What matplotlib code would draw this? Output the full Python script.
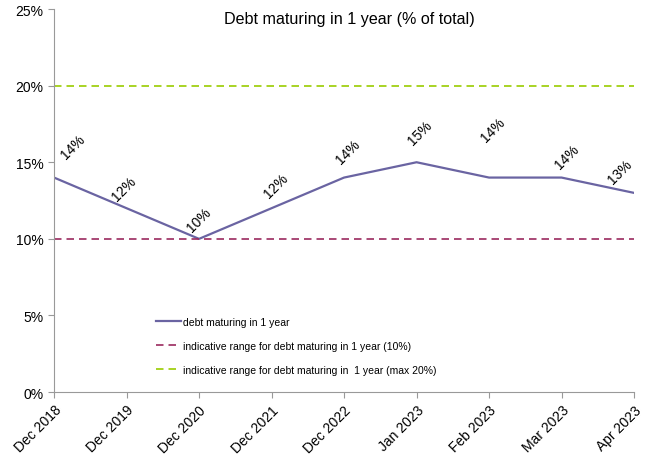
import matplotlib.pyplot as plt
import numpy as np

plt.rcParams['font.family'] = ['Liberation Sans', 'DejaVu Sans']

# data
periods = ['Dec 2018', 'Dec 2019', 'Dec 2020', 'Dec 2021', 'Dec 2022',
           'Jan 2023', 'Feb 2023', 'Mar 2023', 'Apr 2023']
debt_1y = [14, 12, 10, 12, 14, 15, 14, 14, 13]
range_min = 10
range_max = 20
# label offsets (pixels) so the rotated labels sit like the original
label_dx = [19, -3, 0, 4, 4, 3, 4, 5, -14]
label_dy = [31, 20, 19, 23, 26, 30, 48, 21, 22]

fig = plt.figure(figsize=(6.51, 4.56), dpi=100)
ax = fig.add_axes([0.083, 0.138, 0.891, 0.84])

x = np.arange(len(periods))
ax.plot(x, debt_1y, color='#6a64a2', lw=1.6, label='debt maturing in 1 year')
ax.plot(x, [range_min] * len(x), color='#9b2a5f', lw=1.2, ls=(0, (4.5, 3)),
        label='indicative range for debt maturing in 1 year (10%)')
ax.plot(x, [range_max] * len(x), color='#99cc00', lw=1.2, ls=(0, (4.5, 3)),
        label='indicative range for debt maturing in  1 year (max 20%)')

for xi, yi, dx, dy in zip(x, debt_1y, label_dx, label_dy):
    ax.annotate(f'{yi}%', (xi, yi), xytext=(dx, dy), textcoords='offset pixels',
                rotation=45, ha='center', va='center', fontsize=10)

ax.set_xlim(0, len(x) - 1)
ax.set_ylim(0, 25)
ax.set_yticks([0, 5, 10, 15, 20, 25])
ax.set_yticklabels([f'{v}%' for v in [0, 5, 10, 15, 20, 25]], fontsize=10)
ax.set_xticks(x)
ax.set_xticklabels(periods, rotation=45, ha='right', rotation_mode='anchor', fontsize=10)

for s in ['top', 'right']:
    ax.spines[s].set_visible(False)
for s in ['left', 'bottom']:
    ax.spines[s].set_color('#999999')
ax.tick_params(colors='#999999', labelcolor='black', length=4)

ax.text(0.51, 0.975, 'Debt maturing in 1 year (% of total)', transform=ax.transAxes,
        ha='center', va='center', fontsize=11.6)

ax.legend(loc='lower left', bbox_to_anchor=(0.16, 0.02), frameon=False,
          fontsize=7.5, handlelength=2.4, labelspacing=1.35, handletextpad=0.2)

fig.savefig('out.png', dpi=100)
